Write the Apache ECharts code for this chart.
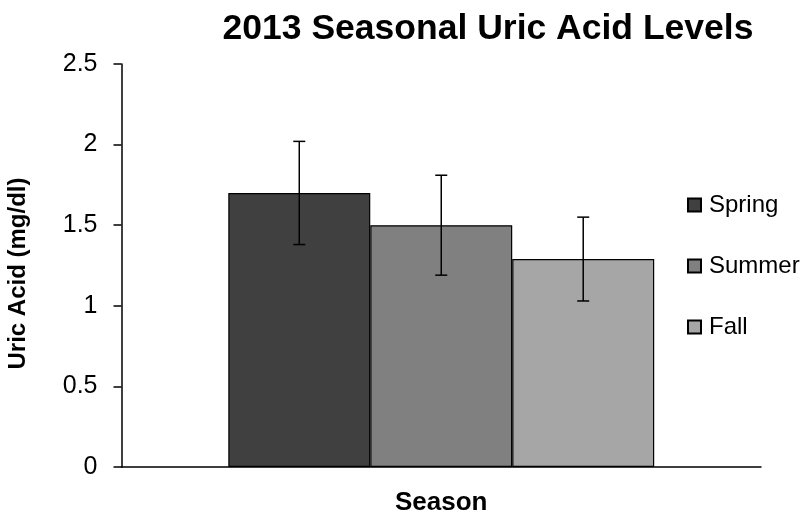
<!DOCTYPE html>
<html>
<head>
<meta charset="utf-8">
<script src="https://cdn.jsdelivr.net/npm/echarts@6/dist/echarts.min.js"></script>
<style>html,body{margin:0;padding:0;background:#fff;}#c{width:810px;height:514px;}</style>
</head>
<body>
<div id="c"></div>
<script>
const categories = [''];
const seasons = ['Spring', 'Summer', 'Fall'];
const means = [1.70, 1.50, 1.29];
const errLow = [1.38, 1.19, 1.03];
const errHigh = [2.02, 1.81, 1.55];
const colors = ['#404040', '#808080', '#a6a6a6'];
const yMin = 0, yMax = 2.5, yStep = 0.5;

const FONT = '"Liberation Sans", Arial, sans-serif';
const catGap = 0.334;

const chart = echarts.init(document.getElementById('c'));

const barSeries = seasons.map((s, i) => ({
  name: s,
  type: 'bar',
  data: [means[i]],
  barGap: '0%',
  barCategoryGap: (catGap * 100) + '%',
  itemStyle: { color: colors[i], borderColor: '#000', borderWidth: 1.2 },
  emphasis: { disabled: true },
  z: 2
}));

const errData = seasons.map((s, i) => [0, errLow[i], errHigh[i], i]);

const errSeries = {
  type: 'custom',
  name: 'err',
  data: errData,
  z: 5,
  silent: true,
  renderItem: function (params, api) {
    const band = api.size([1, 0])[0];
    const bw = band * (1 - catGap) / seasons.length;
    const idx = api.value(3);
    const off = (idx - (seasons.length - 1) / 2) * bw;
    const lo = api.coord([api.value(0), api.value(1)]);
    const hi = api.coord([api.value(0), api.value(2)]);
    const x = lo[0] + off;
    const cap = 6;
    const style = { stroke: '#000', lineWidth: 1.5 };
    return {
      type: 'group',
      children: [
        { type: 'line', shape: { x1: x, y1: lo[1], x2: x, y2: hi[1] }, style: style },
        { type: 'line', shape: { x1: x - cap, y1: lo[1], x2: x + cap, y2: lo[1] }, style: style },
        { type: 'line', shape: { x1: x - cap, y1: hi[1], x2: x + cap, y2: hi[1] }, style: style }
      ]
    };
  }
};

chart.setOption({
  animation: false,
  backgroundColor: '#fff',
  title: {
    text: '2013 Seasonal Uric Acid Levels',
    left: 483, textAlign: 'center', top: 6,
    textStyle: { fontFamily: FONT, fontSize: 35.5, fontWeight: 'bold', color: '#000' }
  },
  legend: {
    orient: 'vertical',
    left: 687, top: 193,
    padding: 0,
    data: seasons,
    itemWidth: 13, itemHeight: 13, itemGap: 37,
    icon: 'rect',
    selectedMode: false,
    textStyle: { fontFamily: FONT, fontSize: 24, lineHeight: 24, color: '#000', padding: [0, 0, 0, 3] }
  },
  grid: { left: 121.5, right: 49, top: 64, bottom: 47, containLabel: false, outerBoundsMode: 'none' },
  xAxis: {
    type: 'category',
    data: categories,
    name: 'Season',
    nameLocation: 'middle',
    nameGap: 23,
    nameTextStyle: { fontFamily: FONT, fontSize: 26, fontWeight: 'bold', color: '#000' },
    axisLine: { lineStyle: { color: '#000', width: 1.5 } },
    axisTick: { show: false },
    axisLabel: { show: false },
    splitLine: { show: false }
  },
  yAxis: {
    type: 'value',
    min: yMin, max: yMax, interval: yStep,
    name: 'Uric Acid (mg/dl)',
    nameLocation: 'middle',
    nameGap: 91,
    nameTextStyle: { fontFamily: FONT, fontSize: 24, fontWeight: 'bold', color: '#000', padding: [0, 16, 0, 0] },
    axisLine: { show: true, lineStyle: { color: '#000', width: 1.5 } },
    axisTick: { show: true, length: 8, lineStyle: { color: '#000', width: 1.5 } },
    axisLabel: { fontFamily: FONT, fontSize: 25, color: '#000', margin: 24 },
    splitLine: { show: false }
  },
  series: barSeries.concat([errSeries])
});
</script>
</body>
</html>
